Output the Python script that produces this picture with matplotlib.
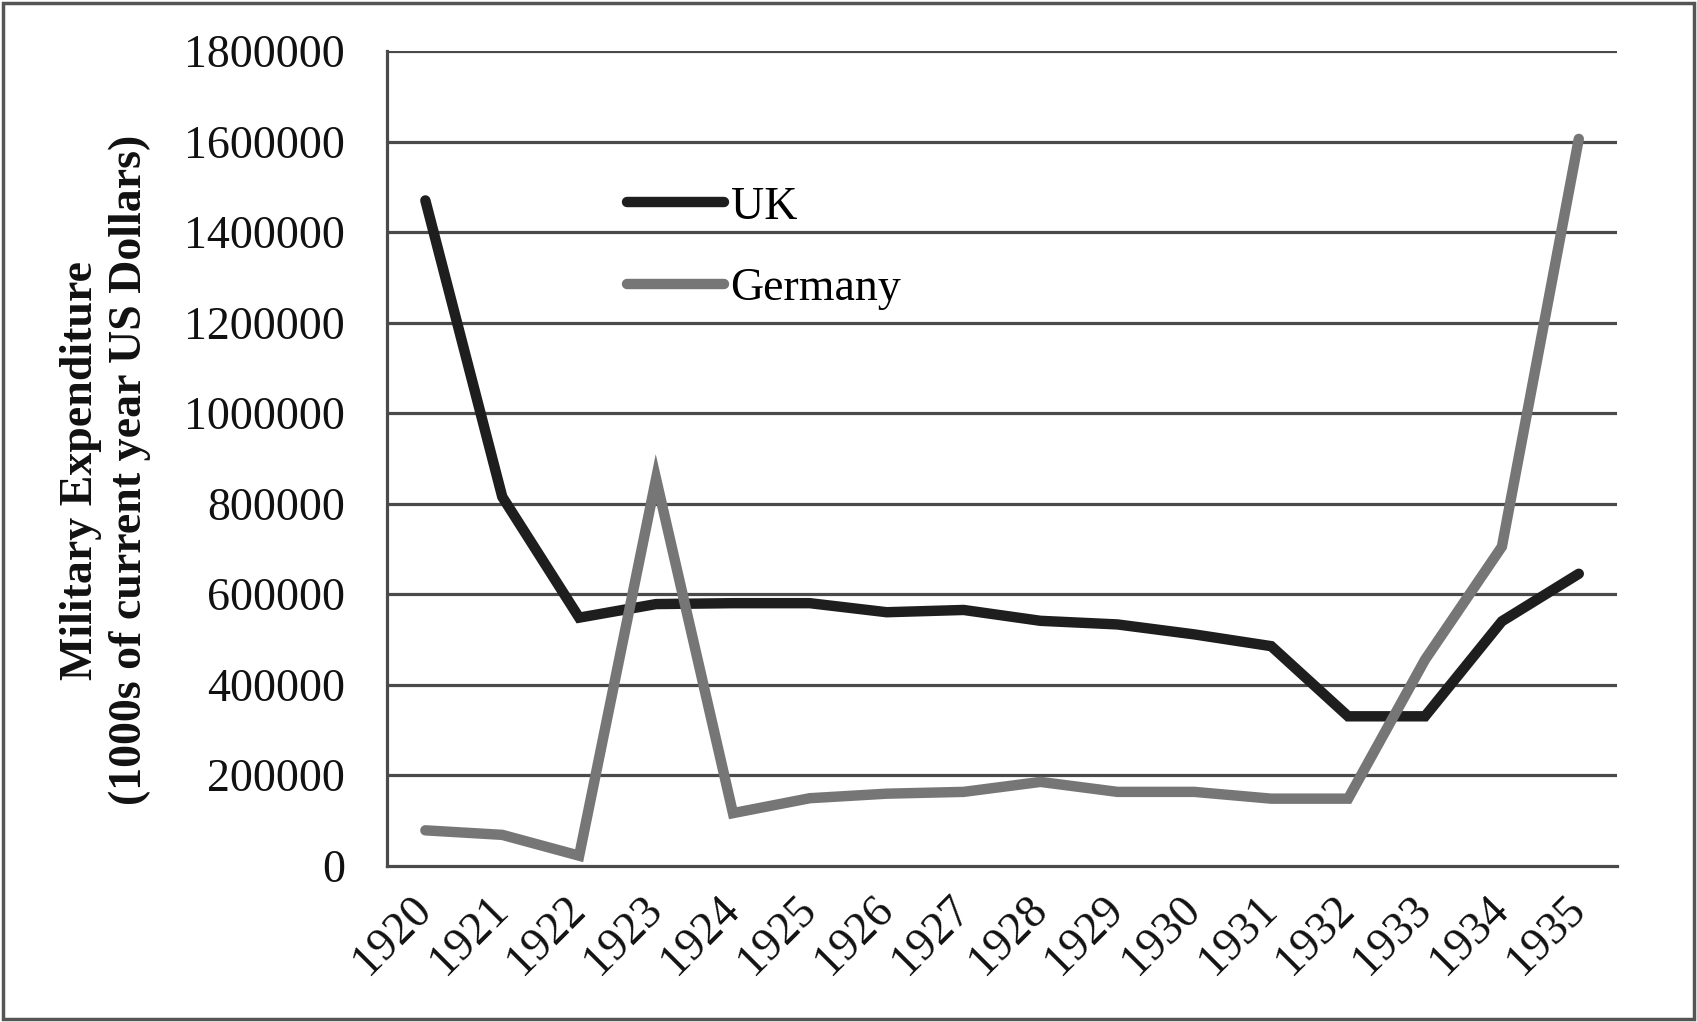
import matplotlib
matplotlib.use("Agg")
import matplotlib.pyplot as plt
from matplotlib.patches import Rectangle

years = ["1920", "1921", "1922", "1923", "1924", "1925", "1926", "1927",
         "1928", "1929", "1930", "1931", "1932", "1933", "1934", "1935"]
uk = [1470000, 815000, 548000, 578000, 580000, 580000, 560000, 565000,
      541000, 533000, 511000, 485000, 330000, 330000, 540000, 645000]
germany = [78000, 68000, 22000, 855000, 116000, 149000, 159000, 163000,
           185000, 163000, 163000, 148000, 148000, 455000, 705000, 1606000]
yticks = [0, 200000, 400000, 600000, 800000, 1000000, 1200000, 1400000,
          1600000, 1800000]

plt.rcParams['font.family'] = ['Liberation Serif', 'DejaVu Serif']

fig = plt.figure(figsize=(16.97, 10.22), dpi=100)
ax = fig.add_axes([0.228, 0.153, 0.725, 0.797])

x = list(range(len(years)))
ax.plot(x, uk, color='#1e1e1e', lw=7.5, solid_capstyle='round',
        solid_joinstyle='miter', label='UK', zorder=3)
ax.plot(x, germany, color='#767676', lw=7.5, solid_capstyle='round',
        solid_joinstyle='miter', label='Germany', zorder=3)

ax.set_xlim(-0.5, len(years) - 0.5)
ax.set_ylim(0, 1800000)
ax.set_yticks(yticks)
ax.set_yticklabels([str(v) for v in yticks])
ax.set_xticks(x)
ax.set_xticklabels(years, rotation=45, ha='right', va='center',
                   rotation_mode='anchor')

grid_c = '#4a4a4a'
for v in yticks[1:]:
    ax.axhline(v, color=grid_c, lw=2.3, zorder=1)
for s in ['top', 'right']:
    ax.spines[s].set_visible(False)
ax.spines['left'].set_color(grid_c)
ax.spines['left'].set_linewidth(2.3)
ax.spines['bottom'].set_color(grid_c)
ax.spines['bottom'].set_linewidth(2.3)
ax.tick_params(axis='both', length=0, labelsize=33, colors='#111111')
ax.tick_params(axis='y', pad=30)
ax.tick_params(axis='x', pad=27)

leg = ax.legend(loc='upper left', bbox_to_anchor=(0.162, 0.885),
                frameon=False, fontsize=33, handlelength=2.1,
                handletextpad=0.15, labelspacing=0.85)

fig.text(0.062, 0.54,
         "Military Expenditure\n(1000s of current year US Dollars)",
         rotation=90, ha='center', va='center', multialignment='center',
         fontsize=33, fontweight='bold', linespacing=1.2, color='#111111')

fig.patches.append(Rectangle((0.0015, 0.0025), 0.997, 0.995,
                             transform=fig.transFigure, fill=False,
                             edgecolor='#555555', lw=2.5))

fig.savefig("out.png", dpi=100)
